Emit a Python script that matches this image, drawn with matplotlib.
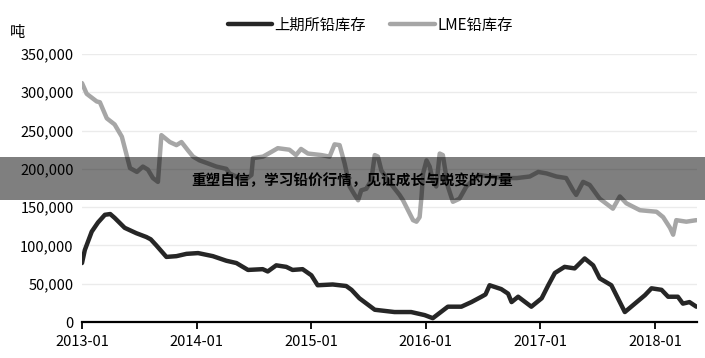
import matplotlib
matplotlib.use("Agg")
import matplotlib.pyplot as plt
import matplotlib.dates as mdates
from matplotlib.patches import Rectangle
from matplotlib.ticker import FuncFormatter
import pandas as pd

plt.rcParams['font.family'] = ['Noto Sans CJK SC', 'DejaVu Sans']

# 上期所铅库存 (SHFE lead stocks), tonnes
shfe_dates = ["2013-01-01", "2013-01-10", "2013-02-01", "2013-02-21", "2013-03-15", "2013-04-01",
              "2013-04-15", "2013-05-17", "2013-06-23", "2013-07-25", "2013-08-08", "2013-08-26",
              "2013-09-27", "2013-10-29", "2013-11-30", "2014-01-06", "2014-02-22", "2014-04-06",
              "2014-05-08", "2014-06-14", "2014-07-31", "2014-08-16", "2014-09-12", "2014-10-14",
              "2014-11-03", "2014-12-05", "2015-01-02", "2015-01-22", "2015-03-11", "2015-04-23",
              "2015-05-10", "2015-06-04", "2015-07-23", "2015-09-24", "2015-11-16", "2015-12-29",
              "2016-01-24", "2016-03-12", "2016-04-24", "2016-05-26", "2016-06-27", "2016-07-10",
              "2016-07-23", "2016-08-29", "2016-09-20", "2016-10-01", "2016-10-22", "2016-12-03",
              "2017-01-05", "2017-01-26", "2017-02-16", "2017-03-19", "2017-04-20", "2017-05-22",
              "2017-06-18", "2017-07-09", "2017-08-15", "2017-09-27", "2017-10-29", "2017-11-30",
              "2017-12-21", "2018-01-22", "2018-02-12", "2018-03-15", "2018-03-31", "2018-04-21",
              "2018-05-13"]
shfe_values = [77000, 94000, 118000, 130000, 140000, 141000,
               136000, 123000, 116000, 111000, 108000, 100000,
               85000, 86000, 89000, 90000, 86000, 80000,
               77000, 68000, 69000, 66000, 74000, 72000,
               68000, 69000, 61000, 48000, 49000, 47000,
               42000, 31000, 16000, 13000, 13000, 9000,
               5000, 20000, 20000, 26000, 33000, 36000,
               48000, 43000, 37000, 26000, 33000, 20000,
               31000, 48000, 64000, 72000, 70000, 83000,
               74000, 57000, 48000, 13000, 24000, 35000,
               44000, 42000, 33000, 33000, 24000, 26000,
               20000]

# LME铅库存 (LME lead stocks), tonnes
lme_dates = ["2013-01-01", "2013-01-16", "2013-02-17", "2013-02-27", "2013-03-21", "2013-04-15",
             "2013-05-08", "2013-05-22", "2013-06-03", "2013-06-25", "2013-07-14", "2013-07-30",
             "2013-08-15", "2013-08-31", "2013-09-11", "2013-10-08", "2013-10-29", "2013-11-14",
             "2013-12-05", "2013-12-21", "2014-01-11", "2014-02-07", "2014-03-05", "2014-04-06",
             "2014-04-16", "2014-06-03", "2014-06-25", "2014-06-30", "2014-08-01", "2014-08-27",
             "2014-09-17", "2014-10-24", "2014-11-14", "2014-11-30", "2014-12-22", "2015-02-03",
             "2015-03-01", "2015-03-17", "2015-04-02", "2015-04-18", "2015-05-04", "2015-05-20",
             "2015-05-31", "2015-06-10", "2015-06-26", "2015-07-12", "2015-07-23", "2015-08-02",
             "2015-08-13", "2015-08-29", "2015-09-19", "2015-10-10", "2015-10-21", "2015-11-06",
             "2015-11-22", "2015-12-03", "2015-12-13", "2015-12-19", "2015-12-24", "2016-01-04",
             "2016-01-14", "2016-01-24", "2016-02-04", "2016-02-15", "2016-02-25", "2016-03-12",
             "2016-03-28", "2016-04-18", "2016-05-10", "2016-05-31", "2016-06-21", "2016-07-23",
             "2016-09-09", "2016-10-18", "2016-11-28", "2016-12-25", "2017-01-21", "2017-02-21",
             "2017-03-24", "2017-04-15", "2017-04-25", "2017-05-17", "2017-06-07", "2017-07-09",
             "2017-08-04", "2017-08-20", "2017-09-11", "2017-10-02", "2017-11-14", "2018-01-06",
             "2018-01-27", "2018-02-18", "2018-02-28", "2018-03-10", "2018-04-11", "2018-05-13"]
lme_values = [312000, 298000, 288000, 287000, 266000, 258000,
              242000, 220000, 201000, 196000, 203000, 199000,
              188000, 183000, 244000, 235000, 231000, 235000,
              224000, 216000, 211000, 207000, 203000, 200000,
              194000, 185000, 192000, 214000, 216000, 222000,
              227000, 225000, 218000, 226000, 220000, 218000,
              216000, 232000, 231000, 207000, 177000, 166000,
              159000, 172000, 174000, 185000, 218000, 216000,
              198000, 188000, 177000, 166000, 159000, 146000,
              133000, 131000, 137000, 164000, 194000, 211000,
              203000, 185000, 177000, 220000, 218000, 177000,
              157000, 161000, 177000, 185000, 192000, 190000,
              188000, 188000, 190000, 196000, 194000, 190000,
              188000, 172000, 166000, 183000, 179000, 161000,
              153000, 148000, 164000, 155000, 146000, 144000,
              137000, 123000, 114000, 133000, 131000, 133000]

series_labels = ["上期所铅库存", "LME铅库存"]
y_ticks = [0, 50000, 100000, 150000, 200000, 250000, 300000, 350000]
x_tick_labels = ["2013-01", "2014-01", "2015-01", "2016-01", "2017-01", "2018-01"]
unit_label = "吨"
banner_text = "重塑自信，学习铅价行情，见证成长与蜕变的力量"

fig = plt.figure(figsize=(7.05, 3.58), dpi=100)
ax = fig.add_axes([82 / 705, 1 - 322 / 358, (697 - 82) / 705, (322 - 54) / 358])

ax.plot(pd.to_datetime(shfe_dates), shfe_values, color="#262626", lw=3.2,
        label=series_labels[0], solid_joinstyle="round", solid_capstyle="round", zorder=3)
ax.plot(pd.to_datetime(lme_dates), lme_values, color="#a6a6a6", lw=3.2,
        label=series_labels[1], solid_joinstyle="round", solid_capstyle="round", zorder=2)

ax.set_ylim(0, 350000)
ax.set_xlim(pd.Timestamp("2013-01-01"), pd.Timestamp("2018-05-15"))
ax.set_yticks(y_ticks)
ax.yaxis.set_major_formatter(FuncFormatter(lambda v, p: f"{int(v):,}"))
ax.set_xticks(pd.to_datetime([s + "-01" for s in x_tick_labels]))
ax.set_xticklabels(x_tick_labels)

ax.grid(axis="y", color="#ebebeb", lw=1)
ax.set_axisbelow(True)
for s in ["top", "right", "left"]:
    ax.spines[s].set_visible(False)
ax.spines["bottom"].set_color("black")
ax.spines["bottom"].set_linewidth(1.6)
ax.spines["bottom"].set_zorder(4)
ax.tick_params(axis="y", length=0, labelsize=10.5, pad=6)
ax.tick_params(axis="x", direction="out", length=5, width=1.3, color="black", labelsize=10.5, pad=4)

fig.legend(loc="center", bbox_to_anchor=(0.525, 1 - 25 / 358), ncol=2, frameon=False,
           fontsize=11, handlelength=2.9, columnspacing=1.6, handletextpad=0.15)

fig.text(10 / 705, 1 - 32 / 358, unit_label, fontsize=11, ha="left", va="center")

fig.patches.append(Rectangle((0, 1 - 200 / 358), 1, 43 / 358, transform=fig.transFigure,
                             facecolor="black", alpha=0.5, edgecolor="none", zorder=10))
fig.text(0.5, 1 - 180 / 358, banner_text, fontsize=10.5, fontweight="bold",
         ha="center", va="center", color="black", zorder=11)

fig.savefig("out.png", dpi=100)
